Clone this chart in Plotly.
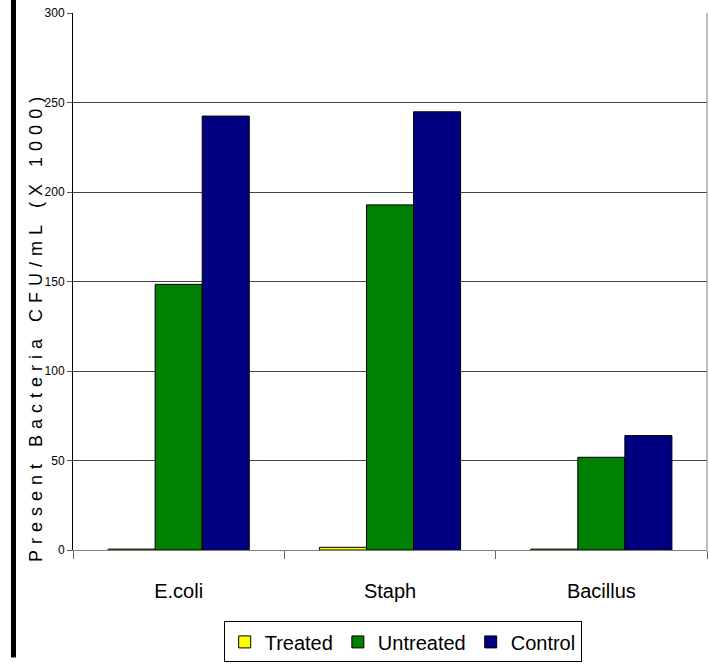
import plotly.graph_objects as go

# Bacterial counts (CFU/mL x 1000) per organism and treatment group
categories = ["E.coli", "Staph", "Bacillus"]
treated = [0.5, 1.5, 0.5]
untreated = [148.4, 192.8, 51.8]
control = [242.4, 244.8, 63.9]

series = [
    ("Treated", treated, "#FFFF00"),
    ("Untreated", untreated, "#008000"),
    ("Control", control, "#000080"),
]

sans = "Liberation Sans, Arial, sans-serif"
tick_font = dict(family=sans, size=12, color="#000")
label_font = dict(family=sans, size=20, color="#000")

fig = go.Figure()
for name, vals, color in series:
    fig.add_trace(go.Bar(
        name=name, x=categories, y=vals,
        marker=dict(color=color, line=dict(color="#000", width=1)),
    ))

# spaced-out axis title, as in the original spreadsheet layout
ytitle = "\u2004".join("Present Bacteria CFU/mL (X 1000)")

fig.update_layout(
    width=709, height=664,
    margin=dict(l=73, r=2, t=13, b=108),
    paper_bgcolor="white", plot_bgcolor="white",
    barmode="group", bargap=0.332, bargroupgap=0,
    showlegend=True,
    legend=dict(
        orientation="h", x=0.52, xanchor="center", y=-0.133, yanchor="top",
        font=dict(family=sans, size=20, color="#000"),
        bordercolor="#000", borderwidth=1, bgcolor="white",
        itemwidth=30, traceorder="normal",
    ),
    xaxis=dict(
        tickson="boundaries", ticks="outside", ticklen=8, tickcolor="#666",
        showline=True, linecolor="#808080", linewidth=1,
        showgrid=False, tickfont=label_font, ticklabelstandoff=23,
    ),
    yaxis=dict(
        range=[0, 300], dtick=50, ticks="outside", ticklen=5, tickcolor="#555",
        showline=True, linecolor="#000", linewidth=1,
        showgrid=True, gridcolor="#444", gridwidth=1, zeroline=False,
        tickfont=tick_font,
    ),
    shapes=[
        # black rule down the left edge of the page
        dict(type="rect", xref="paper", yref="paper", x0=-0.0978, x1=-0.0899,
             y0=-0.2, y1=1.03, fillcolor="#000", line=dict(width=0), layer="above"),
        # grey right-hand frame of the plot area
        dict(type="line", xref="paper", yref="paper", x0=1, x1=1, y0=0, y1=1,
             line=dict(color="#808080", width=1)),
    ],
    annotations=[
        dict(text=ytitle, xref="paper", yref="paper", x=-0.058, y=0.41,
             xanchor="center", yanchor="middle", textangle=-90, showarrow=False,
             font=dict(family=sans, size=18, color="#000")),
    ],
)

fig.write_html("out.html")
